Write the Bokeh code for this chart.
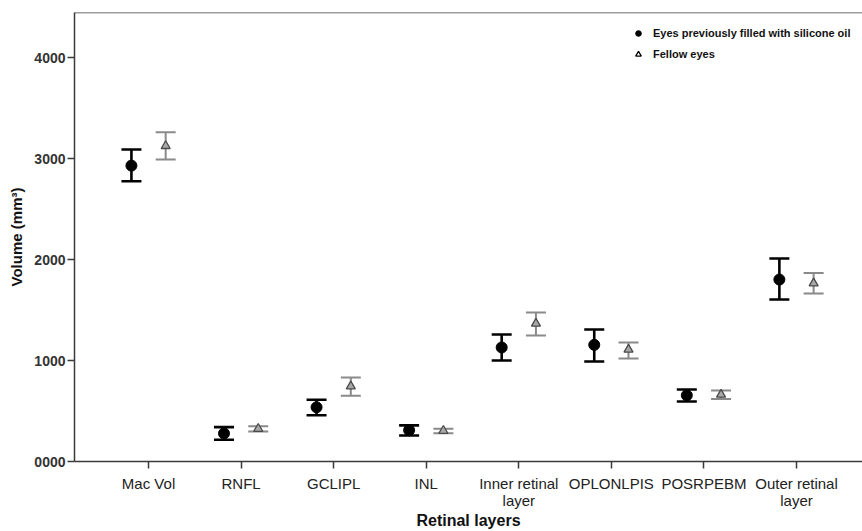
import math
from bokeh.plotting import figure
from bokeh.models import (Range1d, FixedTicker, Whisker, ColumnDataSource, Legend,
                          LegendItem, Span, TeeHead)
from bokeh.embed import file_html
from bokeh.resources import INLINE

# ---- data ----
layers = ["Mac Vol", "RNFL", "GCLIPL", "INL", "Inner retinal\nlayer",
          "OPLONLPIS", "POSRPEBM", "Outer retinal\nlayer"]
so_mean = [2930, 278, 537, 310, 1129, 1155, 655, 1802]
so_lower = [2775, 215, 458, 257, 1000, 990, 594, 1604]
so_upper = [3090, 340, 612, 358, 1257, 1307, 713, 2010]
fe_mean = [3125, 325, 745, 305, 1366, 1109, 663, 1765]
fe_lower = [2990, 298, 650, 280, 1248, 1020, 618, 1663]
fe_upper = [3260, 350, 832, 325, 1475, 1178, 703, 1866]
y_ticks = [0, 1000, 2000, 3000, 4000]
y_tick_labels = ["0000", "1000", "2000", "3000", "4000"]
series_names = ["Eyes previously filled with silicone oil", "Fellow eyes"]

FONT = "Liberation Sans"
AXIS_COL = "#3a3a3a"
DODGE = 0.185

pos = list(range(1, len(layers) + 1))

so_src = ColumnDataSource(dict(x=[p_ - DODGE for p_ in pos], y=so_mean,
                               lower=so_lower, upper=so_upper))
fe_src = ColumnDataSource(dict(x=[p_ + DODGE for p_ in pos], y=fe_mean,
                               lower=fe_lower, upper=fe_upper))

p = figure(width=862, height=531, output_backend="svg", toolbar_location=None,
           x_range=Range1d(0.2, 8.713), y_range=Range1d(0, 4446),
           min_border_left=74, min_border_right=0, min_border_top=12,
           min_border_bottom=66, background_fill_color="white",
           border_fill_color="white")
p.outline_line_color = None
p.grid.visible = False

# top border line
p.add_layout(Span(location=4446, dimension="width", line_color=AXIS_COL, line_width=1.5))

# error bars
for src, col, lw in [(so_src, "black", 2.6), (fe_src, "#8a8a8a", 2.0)]:
    w = Whisker(base="x", upper="upper", lower="lower", source=src, dimension="height",
                line_color=col, line_width=lw,
                upper_head=TeeHead(size=20, line_color=col, line_width=lw),
                lower_head=TeeHead(size=20, line_color=col, line_width=lw))
    p.add_layout(w)

p.scatter("x", "y", source=so_src, marker="circle", size=11,
          fill_color="black", line_color="black")
p.scatter("x", "y", source=fe_src, marker="triangle", size=9,
          fill_color="#a8a8a8", line_color="#4a4a4a", line_width=1.3)

# legend-only renderers (no visible data)
lg1 = p.scatter(x=[math.nan], y=[math.nan], marker="circle", size=10,
                fill_color="black", line_color="black")
lg2 = p.scatter(x=[math.nan], y=[math.nan], marker="triangle", size=8,
                fill_color="white", line_color="black", line_width=1.3)
legend = Legend(items=[LegendItem(label=series_names[0], renderers=[lg1]),
                       LegendItem(label=series_names[1], renderers=[lg2])],
                location=(557, 397), border_line_color=None, background_fill_alpha=0,
                label_text_font=FONT, label_text_font_size="11px",
                label_text_font_style="bold", label_text_color="#111111",
                glyph_width=14, glyph_height=20, label_height=20, spacing=1,
                margin=0, padding=10, label_standoff=8)
p.add_layout(legend)

# axes
xa = p.xaxis[0]
xa.ticker = FixedTicker(ticks=pos)
xa.major_label_overrides = {pp: lab for pp, lab in zip(pos, layers)}
xa.minor_tick_line_color = None
xa.major_tick_in = 0
xa.major_tick_out = 7
xa.major_tick_line_color = AXIS_COL
xa.major_tick_line_width = 1.5
xa.axis_line_color = AXIS_COL
xa.axis_line_width = 1.5
xa.major_label_text_font = FONT
xa.major_label_text_font_size = "15px"
xa.major_label_text_color = "#222222"
xa.major_label_text_line_height = 1.0
xa.major_label_standoff = 6
xa.axis_label = "Retinal layers"
xa.axis_label_text_font = FONT
xa.axis_label_text_font_size = "16px"
xa.axis_label_text_font_style = "bold"
xa.axis_label_text_color = "#111111"
xa.axis_label_standoff = 0

ya = p.yaxis[0]
ya.ticker = FixedTicker(ticks=y_ticks)
ya.major_label_overrides = {t: l for t, l in zip(y_ticks, y_tick_labels)}
ya.minor_tick_line_color = None
ya.major_tick_in = 0
ya.major_tick_out = 7
ya.major_tick_line_color = AXIS_COL
ya.major_tick_line_width = 1.5
ya.axis_line_color = AXIS_COL
ya.axis_line_width = 1.5
ya.major_label_text_font = FONT
ya.major_label_text_font_size = "14px"
ya.major_label_text_font_style = "bold"
ya.major_label_text_color = "#333333"
ya.major_label_standoff = 2
ya.axis_label = "Volume (mm³)"
ya.axis_label_text_font = FONT
ya.axis_label_text_font_size = "15px"
ya.axis_label_text_font_style = "bold"
ya.axis_label_text_color = "#111111"
ya.axis_label_standoff = 6

open("out.html", "w").write(file_html(p, INLINE))
